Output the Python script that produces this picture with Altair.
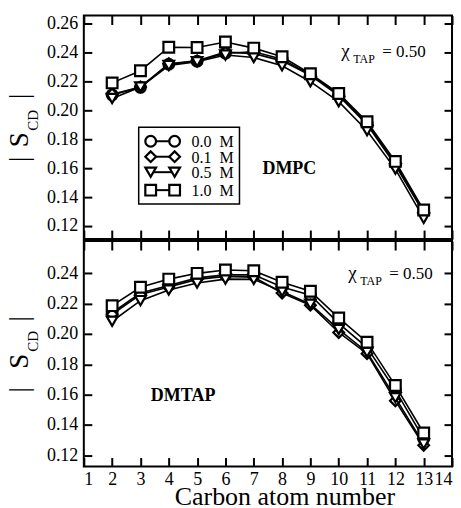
import altair as alt
import pandas as pd

carbons = [2, 3, 4, 5, 6, 7, 8, 9, 10, 11, 12, 13]
NB = "\u00a0"
conc_labels = ["0.0" + NB * 2 + "M", "0.1" + NB * 2 + "M", "0.5" + NB * 2 + "M", "1.0" + NB * 2 + "M"]
marker_shapes = ["circle", "diamond", "triangle-down", "square"]

# DMPC panel (top)
dmpc_00 = [0.2105, 0.2157, 0.2317, 0.2338, 0.2393, 0.2403, 0.2352, 0.2245, 0.2109, 0.1910, 0.1630, 0.1300]
dmpc_01 = [0.2110, 0.2160, 0.2320, 0.2340, 0.2400, 0.2390, 0.2340, 0.2240, 0.2100, 0.1900, 0.1620, 0.1290]
dmpc_05 = [0.2080, 0.2160, 0.2308, 0.2334, 0.2380, 0.2363, 0.2306, 0.2196, 0.2058, 0.1858, 0.1593, 0.1253]
dmpc_10 = [0.2188, 0.2272, 0.2434, 0.2432, 0.2470, 0.2428, 0.2368, 0.2251, 0.2115, 0.1920, 0.1646, 0.1310]

# DMTAP panel (bottom)
dmtap_00 = [0.2140, 0.2270, 0.2320, 0.2370, 0.2390, 0.2390, 0.2310, 0.2256, 0.2070, 0.1910, 0.1630, 0.1310]
dmtap_01 = [0.2130, 0.2260, 0.2310, 0.2360, 0.2380, 0.2375, 0.2270, 0.2190, 0.2010, 0.1870, 0.1560, 0.1266]
dmtap_05 = [0.2084, 0.2220, 0.2290, 0.2336, 0.2362, 0.2360, 0.2280, 0.2196, 0.2030, 0.1880, 0.1580, 0.1275]
dmtap_10 = [0.2187, 0.2308, 0.2362, 0.2400, 0.2422, 0.2417, 0.2341, 0.2282, 0.2106, 0.1946, 0.1660, 0.1347]

x_ticks = list(range(1, 15))
top_y_major = [0.12, 0.14, 0.16, 0.18, 0.20, 0.22, 0.24, 0.26]
bot_y_major = [0.12, 0.14, 0.16, 0.18, 0.20, 0.22, 0.24]

SERIF = "Liberation Serif"
W = 369
MSIZE = 115
XT = 9   # x tick length (inward)
YT = 8   # y tick length (inward)


def make_df(series):
    rows = []
    for lab, vals in zip(conc_labels, series):
        for c, v in zip(carbons, vals):
            rows.append({"carbon": c, "s": v, "conc": lab})
    return pd.DataFrame(rows)


def one():
    return alt.Chart(alt.Data(values=[{}]))


def text_layer(txt, x, y, size, weight="normal", angle=0, align="left", baseline="alphabetic"):
    kw = dict(text=txt, font=SERIF, fontSize=size, fontWeight=weight, color="black",
              align=align, baseline=baseline)
    if angle:
        kw["angle"] = angle
    return one().mark_text(**kw).encode(x=alt.value(x), y=alt.value(y))


def legend_layers():
    lay = [one().mark_rect(fill="white", stroke="black", strokeWidth=1.5).encode(
        x=alt.value(55), x2=alt.value(156), y=alt.value(112), y2=alt.value(189))]
    rows_y = [126, 141.5, 157, 175]
    xa, xb = 67, 91
    for lab, shp, ry in zip(conc_labels, marker_shapes, rows_y):
        lay.append(one().mark_rule(color="black", strokeWidth=2).encode(
            x=alt.value(xa), x2=alt.value(xb), y=alt.value(ry)))
        for xx in (xa, xb):
            lay.append(one().mark_point(shape=shp, size=MSIZE, filled=True, fill="white",
                                        stroke="black", strokeWidth=2.2, opacity=1).encode(
                x=alt.value(xx), y=alt.value(ry)))
        lay.append(text_layer(lab, 108, ry + 1, 16, baseline="middle"))
    return lay


def tick_axis(orient, values, size, labels, fmt=None, title=None, padding=6):
    # axis pulled inside the frame by the tick length so its ticks point inward
    kw = dict(orient=orient, values=values, grid=False, domain=False, ticks=True,
              tickSize=size, tickWidth=2, tickColor="black", offset=-size,
              labels=labels, title=None)
    if labels:
        kw.update(format=fmt, labelFont=SERIF, labelFontSize=18, labelColor="black",
                  labelPadding=padding)
    if title:
        kw.update(title=title, titleFont=SERIF, titleFontSize=26, titleFontWeight="normal",
                  titleColor="black", titleX=201, titleY=XT + 38, titleBaseline="alphabetic")
    return alt.Axis(**kw)


def panel(series, ydom, ymaj, height, bottom_labels, texts, legend):
    df = make_df(series)
    xs = alt.Scale(domain=[1, 14], nice=False, zero=False)
    ys = alt.Scale(domain=ydom, nice=False, zero=False)
    xa = tick_axis("bottom", x_ticks, XT, bottom_labels, fmt="d",
                   title="Carbon atom number" if bottom_labels else None, padding=4)
    ya = tick_axis("left", ymaj, YT, True, fmt=".2f", padding=6)

    layers = []
    for lab, shp in zip(conc_labels, marker_shapes):
        base = alt.Chart(df).transform_filter(alt.datum.conc == lab)
        enc = dict(x=alt.X("carbon:Q", scale=xs, axis=xa), y=alt.Y("s:Q", scale=ys, axis=ya))
        layers.append(base.mark_line(color="black", strokeWidth=1.6).encode(**enc))
        layers.append(base.mark_point(shape=shp, size=MSIZE, filled=True, fill="white",
                                      stroke="black", strokeWidth=2.2, opacity=1).encode(**enc))
    layers += texts
    if legend:
        layers += legend_layers()
    main = alt.layer(*layers)
    mirror = alt.Chart(df).mark_point(opacity=0).encode(
        x=alt.X("carbon:Q", scale=xs, axis=tick_axis("top", x_ticks, XT, False)),
        y=alt.Y("s:Q", scale=ys, axis=tick_axis("right", ymaj, YT, False)),
    )
    return alt.layer(main, mirror).resolve_scale(x="independent", y="independent").properties(
        width=W, height=height)


top_texts = [
    text_layer("χ", 258, 42, 19),
    text_layer("TAP", 270, 48, 12),
    text_layer("= 0.50", 299, 42, 17),
    text_layer("DMPC", 206, 159, 18, weight="bold", align="center"),
    text_layer("|", -56, 144, 27, angle=270, align="center"),
    text_layer("S", -56, 124.5, 27, angle=270, align="center"),
    text_layer("CD", -46, 105, 15, angle=270, align="center"),
    text_layer("|", -56, 81, 27, angle=270, align="center"),
]
bot_texts = [
    text_layer("χ", 265, 38, 19),
    text_layer("TAP", 277, 44, 12),
    text_layer("= 0.50", 306, 38, 17),
    text_layer("DMTAP", 99.5, 160, 18, weight="bold", align="center"),
    text_layer("|", -56, 149, 27, angle=270, align="center"),
    text_layer("S", -56, 120.5, 27, angle=270, align="center"),
    text_layer("CD", -46, 100.5, 15, angle=270, align="center"),
    text_layer("|", -56, 78, 27, angle=270, align="center"),
]

top = panel([dmpc_00, dmpc_01, dmpc_05, dmpc_10], [0.111, 0.2653], top_y_major,
            224, False, top_texts, True)
bot = panel([dmtap_00, dmtap_01, dmtap_05, dmtap_10], [0.1126, 0.2613], bot_y_major,
            226, True, bot_texts, False)

chart = alt.vconcat(top, bot, spacing=-4).properties(
    padding={"left": 5, "top": 12, "right": 7, "bottom": 1}, background="white"
).configure_view(stroke="black", strokeWidth=2)

chart.save("out.html", embed_options={"renderer": "svg", "actions": False})
